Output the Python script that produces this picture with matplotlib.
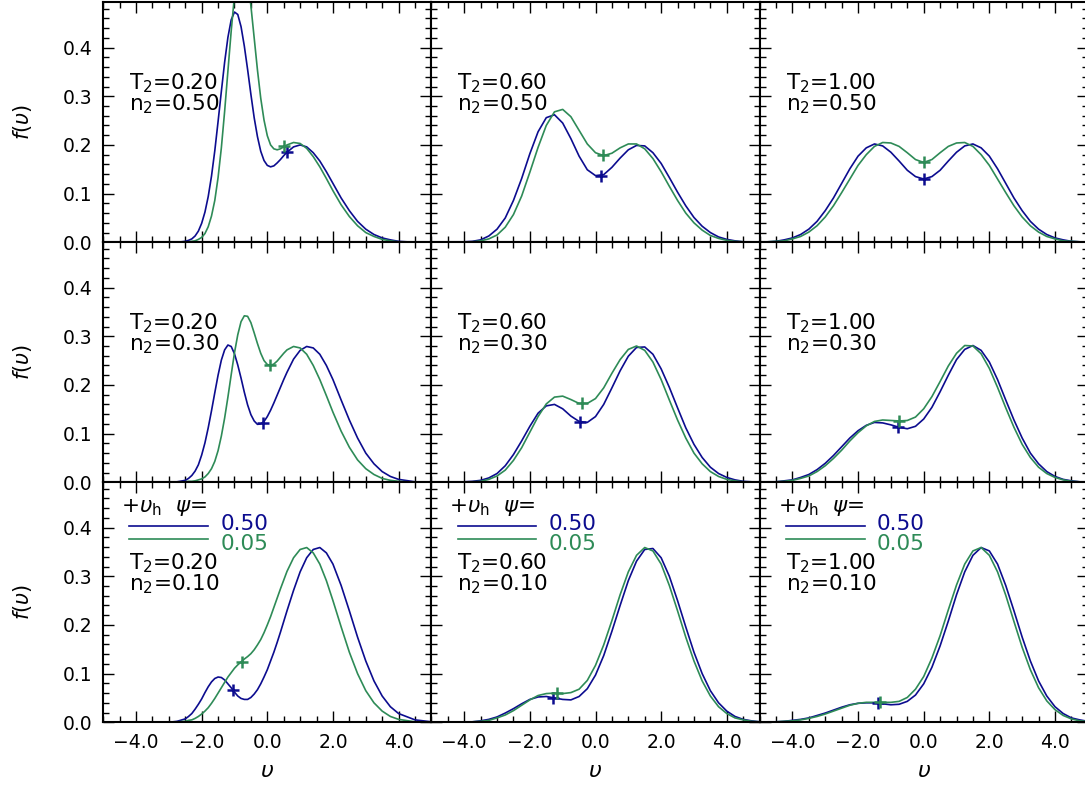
import matplotlib
matplotlib.use("Agg")
import matplotlib.pyplot as plt
from matplotlib.ticker import MultipleLocator, FuncFormatter

# velocity grids (fine grid for the narrow T2=0.20 peaks)
V = [-5.0, -4.75, -4.5, -4.25, -4.0, -3.75, -3.5, -3.25, -3.0, -2.75, -2.5, -2.25, -2.0, -1.75,
     -1.5, -1.25, -1.0, -0.75, -0.5, -0.25, 0.0, 0.25, 0.5, 0.75, 1.0, 1.25, 1.5, 1.75, 2.0,
     2.25, 2.5, 2.75, 3.0, 3.25, 3.5, 3.75, 4.0, 4.25, 4.5, 4.75, 5.0]
VF = [-5.0, -4.5, -4.0, -3.5, -3.0, -2.75, -2.5, -2.4, -2.3, -2.2, -2.1, -2.0, -1.9, -1.8, -1.7,
      -1.6, -1.5, -1.4, -1.3, -1.2, -1.1, -1.0, -0.9, -0.8, -0.7, -0.6, -0.5, -0.4, -0.3, -0.2,
      -0.1, 0.0, 0.1, 0.2, 0.3, 0.4, 0.5, 0.6, 0.8, 1.0, 1.2, 1.4, 1.6, 1.8, 2.0, 2.25, 2.5,
      2.75, 3.0, 3.25, 3.5, 3.75, 4.0, 4.5, 5.0]

# f(v) for psi=0.50 (blue) and psi=0.05 (green)
# row 1: n2 = 0.50
B_T020_N050 = [0.000, 0.000, 0.000, 0.000, 0.000, 0.000, 0.002, 0.004, 0.007, 0.013, 0.023, 0.039,
               0.062, 0.094, 0.136, 0.188, 0.248, 0.310, 0.370, 0.421, 0.457, 0.473, 0.468, 0.443,
               0.403, 0.355, 0.304, 0.256, 0.217, 0.187, 0.168, 0.158, 0.155, 0.157, 0.163, 0.170,
               0.178, 0.185, 0.196, 0.200, 0.196, 0.184, 0.167, 0.145, 0.121, 0.091, 0.065, 0.043,
               0.027, 0.016, 0.009, 0.005, 0.002, 0.000, 0.000]
G_T020_N050 = [0.000, 0.000, 0.000, 0.000, 0.000, 0.000, 0.001, 0.001, 0.002, 0.003, 0.006, 0.010,
               0.018, 0.032, 0.054, 0.086, 0.133, 0.194, 0.269, 0.352, 0.434, 0.507, 0.559, 0.583,
               0.576, 0.541, 0.486, 0.420, 0.354, 0.296, 0.251, 0.219, 0.200, 0.192, 0.190, 0.192,
               0.196, 0.200, 0.205, 0.203, 0.193, 0.176, 0.155, 0.131, 0.106, 0.077, 0.053, 0.034,
               0.020, 0.012, 0.006, 0.003, 0.001, 0.000, 0.000]
B_T060_N050 = [0.000, 0.000, 0.000, 0.000, 0.001, 0.002, 0.005, 0.013, 0.027, 0.050, 0.086, 0.131,
               0.182, 0.227, 0.256, 0.262, 0.245, 0.213, 0.177, 0.149, 0.137, 0.139, 0.154, 0.173,
               0.190, 0.199, 0.198, 0.184, 0.162, 0.133, 0.103, 0.075, 0.051, 0.033, 0.020, 0.011,
               0.006, 0.003, 0.001, 0.001, 0.000]
G_T060_N050 = [0.000, 0.000, 0.000, 0.000, 0.000, 0.001, 0.003, 0.007, 0.015, 0.031, 0.057, 0.095,
               0.144, 0.195, 0.240, 0.268, 0.273, 0.258, 0.230, 0.202, 0.184, 0.178, 0.183, 0.194,
               0.202, 0.202, 0.192, 0.172, 0.145, 0.115, 0.086, 0.060, 0.040, 0.025, 0.014, 0.008,
               0.004, 0.002, 0.001, 0.000, 0.000]
B_T100_N050 = [0.000, 0.001, 0.002, 0.005, 0.009, 0.016, 0.027, 0.043, 0.065, 0.091, 0.121, 0.151,
               0.177, 0.194, 0.202, 0.198, 0.185, 0.167, 0.148, 0.135, 0.130, 0.135, 0.148, 0.167,
               0.185, 0.198, 0.202, 0.194, 0.177, 0.151, 0.121, 0.091, 0.065, 0.043, 0.027, 0.016,
               0.009, 0.005, 0.002, 0.001, 0.000]
G_T100_N050 = [0.000, 0.001, 0.002, 0.003, 0.007, 0.012, 0.021, 0.034, 0.052, 0.075, 0.102, 0.130,
               0.158, 0.180, 0.197, 0.205, 0.204, 0.197, 0.184, 0.170, 0.164, 0.170, 0.184, 0.197,
               0.204, 0.205, 0.197, 0.180, 0.158, 0.130, 0.102, 0.075, 0.052, 0.034, 0.021, 0.012,
               0.007, 0.003, 0.002, 0.001, 0.000]
# row 2: n2 = 0.30
B_T020_N030 = [0.000, 0.000, 0.000, 0.000, 0.000, 0.001, 0.004, 0.008, 0.014, 0.023, 0.036, 0.056,
               0.081, 0.112, 0.147, 0.184, 0.220, 0.251, 0.272, 0.282, 0.279, 0.264, 0.241, 0.214,
               0.185, 0.159, 0.139, 0.126, 0.119, 0.120, 0.125, 0.135, 0.148, 0.163, 0.179, 0.195,
               0.211, 0.226, 0.253, 0.271, 0.279, 0.276, 0.263, 0.240, 0.211, 0.169, 0.128, 0.091,
               0.060, 0.038, 0.022, 0.012, 0.006, 0.001, 0.000]
G_T020_N030 = [0.000, 0.000, 0.000, 0.000, 0.000, 0.000, 0.001, 0.002, 0.002, 0.003, 0.005, 0.007,
               0.011, 0.018, 0.028, 0.043, 0.065, 0.095, 0.132, 0.175, 0.221, 0.266, 0.303, 0.330,
               0.342, 0.341, 0.328, 0.307, 0.285, 0.265, 0.250, 0.242, 0.240, 0.243, 0.249, 0.257,
               0.265, 0.272, 0.279, 0.276, 0.263, 0.240, 0.211, 0.178, 0.144, 0.105, 0.072, 0.046,
               0.028, 0.016, 0.008, 0.004, 0.002, 0.000, 0.000]
B_T060_N030 = [0.000, 0.000, 0.000, 0.000, 0.001, 0.002, 0.004, 0.009, 0.018, 0.034, 0.057, 0.085,
               0.115, 0.142, 0.157, 0.160, 0.151, 0.136, 0.125, 0.123, 0.135, 0.160, 0.194, 0.229,
               0.259, 0.277, 0.278, 0.263, 0.233, 0.195, 0.153, 0.112, 0.078, 0.051, 0.031, 0.018,
               0.010, 0.005, 0.002, 0.001, 0.000]
G_T060_N030 = [0.000, 0.000, 0.000, 0.000, 0.000, 0.001, 0.002, 0.006, 0.013, 0.025, 0.045, 0.071,
               0.103, 0.135, 0.161, 0.175, 0.177, 0.170, 0.162, 0.162, 0.172, 0.194, 0.224, 0.252,
               0.273, 0.280, 0.271, 0.247, 0.211, 0.169, 0.128, 0.091, 0.060, 0.038, 0.022, 0.012,
               0.006, 0.003, 0.001, 0.001, 0.000]
B_T100_N030 = [0.000, 0.001, 0.001, 0.003, 0.005, 0.010, 0.016, 0.026, 0.039, 0.055, 0.073, 0.091,
               0.106, 0.117, 0.123, 0.122, 0.118, 0.113, 0.110, 0.115, 0.130, 0.154, 0.186, 0.220,
               0.252, 0.273, 0.281, 0.271, 0.247, 0.211, 0.169, 0.128, 0.091, 0.060, 0.038, 0.022,
               0.012, 0.006, 0.003, 0.001, 0.001]
G_T100_N030 = [0.000, 0.000, 0.001, 0.002, 0.004, 0.008, 0.013, 0.022, 0.034, 0.049, 0.066, 0.085,
               0.102, 0.116, 0.125, 0.128, 0.127, 0.126, 0.127, 0.134, 0.151, 0.176, 0.207, 0.239,
               0.265, 0.281, 0.280, 0.264, 0.234, 0.195, 0.153, 0.113, 0.078, 0.051, 0.031, 0.018,
               0.010, 0.005, 0.002, 0.001, 0.000]
# row 3: n2 = 0.10
B_T020_N010 = [0.000, 0.000, 0.000, 0.000, 0.000, 0.002, 0.007, 0.012, 0.018, 0.027, 0.037, 0.048,
               0.061, 0.073, 0.083, 0.090, 0.093, 0.092, 0.087, 0.079, 0.071, 0.062, 0.054, 0.049,
               0.047, 0.047, 0.051, 0.058, 0.067, 0.079, 0.093, 0.108, 0.126, 0.144, 0.164, 0.185,
               0.207, 0.229, 0.271, 0.309, 0.338, 0.355, 0.359, 0.348, 0.325, 0.281, 0.229, 0.175,
               0.126, 0.085, 0.054, 0.032, 0.018, 0.005, 0.001]
G_T020_N010 = [0.000, 0.000, 0.000, 0.000, 0.000, 0.001, 0.002, 0.004, 0.005, 0.008, 0.012, 0.017,
               0.023, 0.030, 0.039, 0.049, 0.060, 0.071, 0.082, 0.093, 0.102, 0.111, 0.118, 0.124,
               0.130, 0.135, 0.141, 0.149, 0.159, 0.170, 0.184, 0.200, 0.217, 0.236, 0.255, 0.274,
               0.292, 0.310, 0.338, 0.355, 0.359, 0.348, 0.325, 0.291, 0.250, 0.196, 0.144, 0.100,
               0.065, 0.040, 0.023, 0.012, 0.006, 0.001, 0.000]
B_T060_N010 = [0.000, 0.000, 0.000, 0.000, 0.001, 0.001, 0.003, 0.006, 0.011, 0.019, 0.028, 0.038,
               0.047, 0.052, 0.053, 0.050, 0.047, 0.046, 0.053, 0.069, 0.097, 0.137, 0.187, 0.240,
               0.291, 0.331, 0.355, 0.357, 0.338, 0.300, 0.250, 0.196, 0.144, 0.100, 0.065, 0.040,
               0.023, 0.012, 0.006, 0.003, 0.001]
G_T060_N010 = [0.000, 0.000, 0.000, 0.000, 0.000, 0.001, 0.002, 0.004, 0.009, 0.015, 0.024, 0.035,
               0.046, 0.055, 0.059, 0.060, 0.059, 0.061, 0.068, 0.086, 0.117, 0.159, 0.209, 0.262,
               0.309, 0.343, 0.359, 0.352, 0.325, 0.281, 0.229, 0.175, 0.126, 0.085, 0.054, 0.032,
               0.018, 0.009, 0.005, 0.002, 0.001]
B_T100_N010 = [0.000, 0.001, 0.001, 0.002, 0.004, 0.006, 0.009, 0.014, 0.019, 0.025, 0.031, 0.036,
               0.039, 0.040, 0.040, 0.038, 0.036, 0.037, 0.043, 0.056, 0.079, 0.113, 0.157, 0.208,
               0.262, 0.309, 0.343, 0.359, 0.352, 0.325, 0.281, 0.229, 0.175, 0.126, 0.085, 0.054,
               0.032, 0.018, 0.009, 0.005, 0.002]
G_T100_N010 = [0.000, 0.000, 0.001, 0.002, 0.003, 0.005, 0.008, 0.012, 0.017, 0.023, 0.029, 0.035,
               0.039, 0.041, 0.041, 0.041, 0.041, 0.043, 0.051, 0.068, 0.094, 0.132, 0.178, 0.231,
               0.282, 0.325, 0.352, 0.359, 0.343, 0.309, 0.261, 0.207, 0.154, 0.108, 0.071, 0.044,
               0.026, 0.014, 0.007, 0.003, 0.002]

# hole velocity markers (row-major over panels)
VH_BLUE = [0.61, 0.18, 0.00, -0.14, -0.48, -0.78, -1.06, -1.29, -1.39]
FH_BLUE = [0.185, 0.136, 0.130, 0.121, 0.124, 0.113, 0.067, 0.050, 0.039]
VH_GREEN = [0.52, 0.23, 0.00, 0.08, -0.41, -0.75, -0.78, -1.17, -1.32]
FH_GREEN = [0.197, 0.179, 0.164, 0.240, 0.162, 0.126, 0.123, 0.060, 0.041]

T2_LABELS = ["0.20", "0.60", "1.00"]
N2_LABELS = ["0.50", "0.30", "0.10"]
PSI_LABELS = ["0.50", "0.05"]

BLUE = "#0c0c8f"
GREEN = "#2e8b57"

panels = [
    [(VF, B_T020_N050, G_T020_N050), (V, B_T060_N050, G_T060_N050), (V, B_T100_N050, G_T100_N050)],
    [(VF, B_T020_N030, G_T020_N030), (V, B_T060_N030, G_T060_N030), (V, B_T100_N030, G_T100_N030)],
    [(VF, B_T020_N010, G_T020_N010), (V, B_T060_N010, G_T060_N010), (V, B_T100_N010, G_T100_N010)],
]

W, H = 1085, 785
fig = plt.figure(figsize=(W / 100, H / 100), dpi=100)

def minus(x, pos):
    return ("%.1f" % x).replace("-", "\u2212")

k = 0
for r in range(3):
    for c in range(3):
        left = 103.2 + 328.2 * c
        top = 2.3 + 240.0 * r
        ax = fig.add_axes([left / W, 1 - (top + 240.0) / H, 328.2 / W, 240.0 / H])
        vv, fb, fg = panels[r][c]
        ax.plot(vv, fb, color=BLUE, lw=1.2)
        ax.plot(vv, fg, color=GREEN, lw=1.2)
        ax.plot([VH_BLUE[k]], [FH_BLUE[k]], marker="+", ms=9, mew=1.8, color=BLUE, ls="none")
        ax.plot([VH_GREEN[k]], [FH_GREEN[k]], marker="+", ms=9, mew=1.8, color=GREEN, ls="none")
        k += 1

        ax.set_xlim(-5, 5)
        ax.set_ylim(0, 0.493)
        ax.xaxis.set_major_locator(MultipleLocator(2))
        ax.xaxis.set_minor_locator(MultipleLocator(0.5))
        ax.yaxis.set_major_locator(MultipleLocator(0.1))
        ax.yaxis.set_minor_locator(MultipleLocator(0.02))
        ax.xaxis.set_major_formatter(FuncFormatter(minus))
        ax.yaxis.set_major_formatter(FuncFormatter(lambda y, p: "%.1f" % y))
        ax.tick_params(which="both", direction="in", top=True, right=True, width=1.0,
                       labelsize=13.5, labelbottom=(r == 2), labelleft=(c == 0))
        ax.tick_params(which="major", length=8, pad=8)
        ax.tick_params(which="minor", length=4.5)
        for s in ax.spines.values():
            s.set_linewidth(1.5)

        ax.text(0.079, 0.62, "T$_2$=" + T2_LABELS[c] + "\nn$_2$=" + N2_LABELS[r],
                transform=ax.transAxes, fontsize=15.5, va="center", ha="left",
                linespacing=0.85)

        if r == 2:
            ax.text(0.055, 0.893, r"+$\upsilon_{\rm h}$  $\psi$=", transform=ax.transAxes,
                    fontsize=15.5, va="center", ha="left")
            ax.plot([0.08, 0.32], [0.819, 0.819], color=BLUE, lw=1.2, transform=ax.transAxes)
            ax.plot([0.08, 0.32], [0.764, 0.764], color=GREEN, lw=1.2, transform=ax.transAxes)
            ax.text(0.358, 0.826, PSI_LABELS[0], color=BLUE, transform=ax.transAxes,
                    fontsize=15.5, va="center", ha="left")
            ax.text(0.358, 0.745, PSI_LABELS[1], color=GREEN, transform=ax.transAxes,
                    fontsize=15.5, va="center", ha="left")

for r in range(3):
    fig.text(22 / W, 1 - (122.3 + 240 * r) / H, r"$f(\upsilon)$", rotation=90,
             fontsize=15, ha="center", va="center")
for c in range(3):
    fig.text((267.2 + 328.2 * c) / W, 1 - 771 / H, r"$\upsilon$", fontsize=16,
             ha="center", va="center")

fig.savefig("out.png", dpi=100)
